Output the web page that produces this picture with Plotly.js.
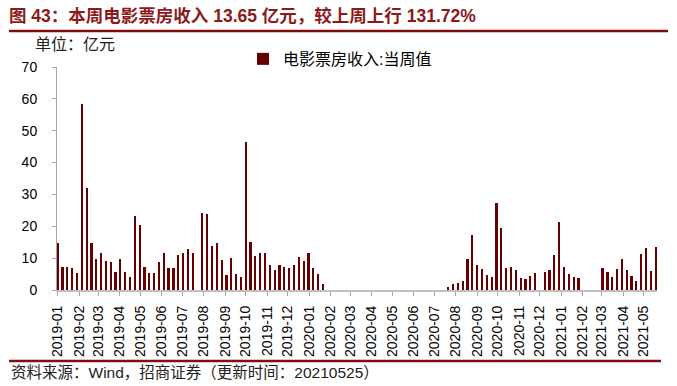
<!DOCTYPE html>
<html>
<head>
<meta charset="utf-8">
<script src="https://cdn.plot.ly/plotly-3.0.1.min.js"></script>
<style>
  html, body { margin: 0; padding: 0; background: #fff; }
  #chart { width: 677px; height: 386px; }
</style>
</head>
<body>
<div id="chart"></div>
<script>
// Weekly box office (亿元), weeks ending on Sundays, first week ends 2019-01-06
const firstWeek = '2019-01-06';
const boxOffice = [
  14.7, 7.3, 7.2, 7.0, 5.2, 58.4, 32.0, 14.9, 9.6, 11.7,
  9.1, 8.9, 5.8, 9.7, 5.7, 4.2, 23.3, 20.4, 7.2, 5.4,
  5.2, 8.9, 11.5, 7.0, 6.8, 10.9, 11.7, 12.8, 11.6, null,
  24.3, 23.9, 13.9, 14.6, 9.4, 4.8, 10.0, 5.1, 4.2, 46.6,
  15.0, 10.8, 11.7, 11.5, 7.9, 6.4, 7.8, 7.2, 6.8, 7.8,
  10.4, 9.2, 11.7, 6.9, 5.0, 2.0, null, null, null, null,
  null, null, null, null, null, null, null, null, null, null,
  null, null, null, null, null, null, null, null, null, null,
  null, 1.1, 2.0, 2.1, 2.7, 9.6, 17.4, 8.0, 6.5, 4.6,
  4.1, 27.4, 19.4, 6.9, 7.1, 6.3, 3.9, 3.6, 4.4, 5.2,
  null, 5.8, 6.3, 10.9, 21.3, 7.1, 4.9, 4.1, 3.9, null,
  null, null, null, 6.9, 5.8, 4.0, 6.5, 9.8, 6.3, 4.4,
  2.7, 11.4, 13.1, 5.89, 13.65
];
const seriesName = '电影票房收入:当周值';
const titleText = '图 43：本周电影票房收入 13.65 亿元，较上周上行 131.72%';
const unitText = '单位：亿元';
const sourceText = '资料来源：Wind，招商证券（更新时间：20210525）';
const yTicks = [0, 10, 20, 30, 40, 50, 60, 70];

// week-ending dates (category axis)
const weeks = boxOffice.map((_, i) => {
  const d = new Date(firstWeek + 'T00:00:00Z');
  d.setUTCDate(d.getUTCDate() + 7 * i);
  return d.toISOString().slice(0, 10);
});

const cjk = '"Liberation Sans", Arial, "Noto Sans CJK SC", sans-serif';
const DAY = 86400000;

const trace = {
  type: 'bar',
  x: weeks,
  y: boxOffice,
  name: seriesName,
  width: 3.2 * DAY,
  marker: { color: '#660000', line: { width: 0 } },
  showlegend: true,
  hoverinfo: 'x+y'
};

const layout = {
  width: 677,
  height: 386,
  margin: { l: 57, r: 20, t: 67, b: 96, pad: 0 },
  paper_bgcolor: '#ffffff',
  plot_bgcolor: '#ffffff',
  font: { family: cjk, color: '#000000', size: 14 },
  title: {
    text: titleText,
    xref: 'container', yref: 'container',
    x: 9 / 677, xanchor: 'left',
    y: 1 - 16 / 386, yanchor: 'middle',
    font: { family: cjk, size: 17.5, color: '#8C1A1A', weight: 'bold' }
  },
  showlegend: true,
  legend: {
    orientation: 'h',
    x: 0.31, xanchor: 'left',
    y: 1.036, yanchor: 'middle',
    bgcolor: 'rgba(0,0,0,0)',
    font: { family: cjk, size: 16, color: '#000000' },
    itemwidth: 30
  },
  xaxis: {
    type: 'date',
    range: ['2019-01-05', '2021-05-25'],
    tick0: firstWeek,
    dtick: 'M1',
    tickformat: '%Y-%m',
    tickangle: -90,
    ticks: 'outside',
    ticklen: 4,
    tickwidth: 1,
    tickcolor: '#a6a6a6',
    showline: true,
    linecolor: '#bfbfbf',
    linewidth: 2,
    showgrid: false,
    zeroline: false,
    ticklabelstandoff: 4,
    tickfont: { family: '"Liberation Sans", Arial, sans-serif', size: 14, color: '#000000' },
    fixedrange: true
  },
  yaxis: {
    range: [0, 70],
    tickvals: yTicks,
    ticktext: yTicks.map(String),
    ticks: 'outside',
    ticklen: 4,
    tickwidth: 1,
    tickcolor: '#a6a6a6',
    showline: true,
    linecolor: '#a6a6a6',
    linewidth: 1,
    showgrid: false,
    zeroline: false,
    ticklabelstandoff: 12,
    tickfont: { family: '"Liberation Sans", Arial, sans-serif', size: 14, color: '#000000' },
    fixedrange: true
  },
  shapes: [
    { type: 'line', xref: 'paper', yref: 'paper',
      x0: (9 - 57) / 600, x1: (668 - 57) / 600,
      y0: (290 - 31) / 223, y1: (290 - 31) / 223,
      line: { color: '#7F0F0F', width: 2.5 } },
    { type: 'line', xref: 'paper', yref: 'paper',
      x0: (9 - 57) / 600, x1: (661 - 57) / 600,
      y0: (290 - 361) / 223, y1: (290 - 361) / 223,
      line: { color: '#7F0F0F', width: 2.5 } }
  ],
  annotations: [
    { text: unitText, xref: 'paper', yref: 'paper',
      x: (33 - 57) / 600, y: (290 - 45) / 223,
      xanchor: 'left', yanchor: 'middle', showarrow: false,
      font: { family: cjk, size: 16, color: '#222222' } },
    { text: sourceText, xref: 'paper', yref: 'paper',
      x: (9 - 57) / 600, y: (290 - 372) / 223,
      xanchor: 'left', yanchor: 'middle', showarrow: false,
      font: { family: cjk, size: 15.5, color: '#222222' } }
  ],
  bargap: 0
};

Plotly.newPlot('chart', [trace], layout, { displayModeBar: false, staticPlot: true });
</script>
</body>
</html>
